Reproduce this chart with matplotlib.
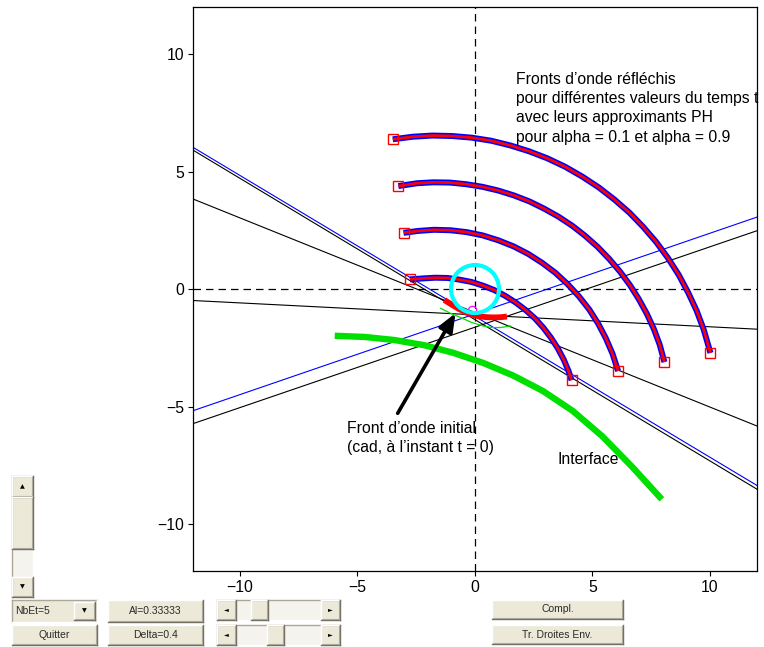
import matplotlib
matplotlib.use('Agg')
import matplotlib.pyplot as plt
from matplotlib.patches import Rectangle, Circle
from matplotlib.lines import Line2D

plt.rcParams['font.family'] = ['Liberation Sans', 'DejaVu Sans']

# ---------------- data ----------------
line_x = [-12, 12]
blue_desc_y = [6.03, -8.36]
black_desc_y = [5.91, -8.52]
black_desc2_y = [3.83, -5.83]
black_flat_y = [-0.49, -1.71]
blue_rise_y = [-5.18, 3.06]
black_rise_y = [-5.73, 2.48]

arc1_x = [-2.77, -2.22, -1.70, -1.18, -0.67, -0.15, 0.35, 0.83, 1.30, 1.74, 2.16, 2.55,
          2.91, 3.23, 3.52, 3.77, 3.98, 4.11]
arc1_y = [0.41, 0.45, 0.48, 0.47, 0.40, 0.30, 0.14, -0.05, -0.30, -0.58, -0.90, -1.25,
          -1.65, -2.07, -2.52, -2.99, -3.49, -3.88]

arc2_x = [-3.04, -2.43, -1.74, -1.04, -0.35, 0.33, 1.00, 1.65, 2.27, 2.86, 3.42, 3.94,
          4.42, 4.86, 5.24, 5.57, 5.85, 6.09]
arc2_y = [2.39, 2.47, 2.52, 2.50, 2.42, 2.28, 2.07, 1.81, 1.49, 1.11, 0.69, 0.21,
          -0.31, -0.87, -1.47, -2.10, -2.75, -3.49]

arc3_x = [-3.26, -2.47, -1.78, -1.08, -0.38, 0.31, 0.99, 1.66, 2.31, 2.94, 3.55, 4.14,
          4.69, 5.22, 5.71, 6.17, 6.59, 6.97, 7.31, 7.61, 7.86, 8.06]
arc3_y = [4.38, 4.50, 4.54, 4.53, 4.46, 4.35, 4.19, 3.98, 3.73, 3.42, 3.08, 2.69,
          2.26, 1.79, 1.28, 0.74, 0.17, -0.43, -1.05, -1.70, -2.37, -3.11]

arc4_x = [-3.50, -2.65, -1.81, -0.97, -0.14, 0.69, 1.50, 2.30, 3.08, 3.84, 4.57, 5.27,
          5.94, 6.57, 7.16, 7.71, 8.21, 8.67, 9.07, 9.43, 9.73, 10.02]
arc4_y = [6.37, 6.48, 6.53, 6.51, 6.44, 6.31, 6.11, 5.86, 5.56, 5.20, 4.78, 4.32,
          3.80, 3.25, 2.64, 2.00, 1.32, 0.60, -0.15, -0.92, -1.72, -2.72]

init_front_x = [-1.30, -1.00, -0.70, -0.40, -0.10, 0.20, 0.50, 0.80, 1.10, 1.36]
init_front_y = [-0.47, -0.66, -0.84, -0.99, -1.10, -1.17, -1.20, -1.21, -1.20, -1.17]

init_green_x = [-1.47, -1.05, -0.62, -0.15, 0.37, 0.75, 1.09, 1.51]
init_green_y = [-0.82, -1.03, -1.21, -1.42, -1.58, -1.64, -1.64, -1.57]

interface_x = [-5.97, -4.70, -3.44, -2.17, -0.91, 0.36, 1.62, 2.89, 4.15, 5.42, 6.69, 7.95]
interface_y = [-1.99, -2.04, -2.17, -2.39, -2.72, -3.15, -3.68, -4.34, -5.18, -6.27, -7.57, -8.95]

circle_center = (0.0, 0.0)
circle_radius = 1.02
magenta_pt = (-0.14, -0.89)

arrow_tail = (-3.29, -5.29)
arrow_head = (-0.83, -1.03)

ticks = [-10, -5, 0, 5, 10]
tick_labels = ['\u221210', '\u22125', '0', '5', '10']

text_fronts = ("Fronts d\u2019onde r\u00e9fl\u00e9chis\n"
               "pour diff\u00e9rentes valeurs du temps t\n"
               "avec leurs approximants PH\n"
               "pour alpha = 0.1 et alpha = 0.9")
text_initial = "Front d\u2019onde initial\n(cad, \u00e0 l\u2019instant t = 0)"
text_interface = "Interface"

widget_labels = ["NbEt=5", "Quitter", "Al=0.33333", "Delta=0.4", "Compl.", "Tr. Droites Env."]

# ---------------- figure ----------------
W, H = 764, 647
FS = 11.3
fig = plt.figure(figsize=(W / 100, H / 100), dpi=100)
fig.patch.set_facecolor('white')
ax = fig.add_axes([193 / W, 1 - 571 / H, 564 / W, 564 / H])
ax.set_xlim(-12, 12)
ax.set_ylim(-12, 12)
ax.set_xticks(ticks)
ax.set_xticklabels(tick_labels)
ax.set_yticks(ticks)
ax.set_yticklabels(tick_labels)
ax.tick_params(direction='out', length=3.5, width=0.8, labelsize=FS, pad=3)
for s in ax.spines.values():
    s.set_linewidth(0.9)

# dashed axes through origin
ax.axhline(0, color='black', lw=0.9, ls=(0, (6, 4)), zorder=1)
ax.axvline(0, color='black', lw=0.9, ls=(0, (6, 4)), zorder=1)

# envelope lines
ax.plot(line_x, blue_desc_y, color='#0000ff', lw=0.8, zorder=2)
ax.plot(line_x, black_desc_y, color='black', lw=0.8, zorder=2)
ax.plot(line_x, black_desc2_y, color='black', lw=0.8, zorder=2)
ax.plot(line_x, black_flat_y, color='black', lw=0.8, zorder=2)
ax.plot(line_x, blue_rise_y, color='#0000ff', lw=0.8, zorder=2)
ax.plot(line_x, black_rise_y, color='black', lw=0.8, zorder=2)

# interface
ax.plot(interface_x, interface_y, color='#00e000', lw=4.6, solid_capstyle='butt',
        solid_joinstyle='round', zorder=3)

# reflected wavefronts
for xs, ys in [(arc1_x, arc1_y), (arc2_x, arc2_y), (arc3_x, arc3_y), (arc4_x, arc4_y)]:
    ax.plot(xs, ys, color='#0000ff', lw=4.3, solid_capstyle='butt', solid_joinstyle='round', zorder=4)
    ax.plot(xs, ys, color='#ff0000', lw=2.0, solid_capstyle='butt', solid_joinstyle='round', zorder=5)
    ax.plot([xs[0], xs[-1]], [ys[0], ys[-1]], ls='none', marker='s', ms=7, mfc='none',
            mec='#ff0000', mew=1.0, zorder=6)

# initial front
ax.plot(init_green_x, init_green_y, color='#00e000', lw=0.9, zorder=4)
ax.plot(init_front_x, init_front_y, color='#ff0000', lw=4.2, solid_capstyle='butt',
        solid_joinstyle='round', zorder=5)
ax.plot([magenta_pt[0]], [magenta_pt[1]], marker='o', ms=6, mfc='none', mec='#ff00ff', mew=0.9, zorder=6)

# cyan circle
ax.add_patch(Circle(circle_center, circle_radius, fill=False, ec='#00ffff', lw=3.0, zorder=7))

# arrow
ax.annotate('', xy=arrow_head, xytext=arrow_tail,
            arrowprops=dict(arrowstyle='-|>,head_length=1.1,head_width=0.45', color='black', lw=2.6,
                            shrinkA=0, shrinkB=0), zorder=8)

# texts
ax.text(1.74, 9.25, text_fronts, fontsize=FS, va='top', ha='left', linespacing=1.36, zorder=9)
ax.text(-5.45, -5.6, text_initial, fontsize=FS, va='top', ha='left', linespacing=1.36, zorder=9)
ax.text(3.53, -6.93, text_interface, fontsize=FS, va='top', ha='left', zorder=9)

# ---------------- GUI widgets drawn on the figure ----------------
FACE = '#ece9d8'
TRACK = '#f4f3ee'


def fx(x):
    return x / W


def fy(y):
    return 1 - y / H


def line(x0, y0, x1, y1, color, lw=1.0):
    fig.add_artist(Line2D([fx(x0), fx(x1)], [fy(y0), fy(y1)], color=color, lw=lw,
                          transform=fig.transFigure))


def box(x0, y0, x1, y1, face=FACE, raised=True):
    fig.add_artist(Rectangle((fx(x0), fy(y1)), fx(x1) - fx(x0), fy(y0) - fy(y1),
                             transform=fig.transFigure, fc=face, ec='none'))
    light, dark = ('white', '#716f64') if raised else ('#aca899', 'white')
    line(x0, y0, x1, y0, light, 1.0)
    line(x0, y0, x0, y1, light, 1.0)
    line(x0, y1, x1, y1, dark, 1.0)
    line(x1, y0, x1, y1, dark, 1.0)
    if raised:
        line(x0 + 1, y1 - 1, x1 - 1, y1 - 1, '#aca899', 0.8)
        line(x1 - 1, y0 + 1, x1 - 1, y1 - 1, '#aca899', 0.8)


def label(x, y, s, ha='center', size=7.5):
    fig.text(fx(x), fy(y), s, ha=ha, va='center', fontsize=size, color='#2a2a2a',
             family=['Liberation Sans', 'DejaVu Sans'])


def glyph(x, y, s, size=4.5):
    fig.text(fx(x), fy(y), s, ha='center', va='center', fontsize=size, color='black',
             family=['DejaVu Sans'])


# vertical scrollbar
box(12, 476, 33, 597, face=TRACK, raised=False)
box(12, 476, 33, 497)
glyph(22.5, 486.5, '\u25b2')
box(12, 497, 33, 549)
box(12, 577, 33, 597)
glyph(22.5, 587, '\u25bc')

# popup NbEt
box(12, 600, 97, 622, raised=False)
label(15, 611, widget_labels[0], ha='left')
box(74, 602, 95, 620)
glyph(84.5, 611, '\u25bc')

# Quitter
box(12, 625, 97, 645)
label(54.5, 635, widget_labels[1])

# text boxes
box(108, 600, 203, 622)
label(155.5, 611, widget_labels[2])
box(108, 625, 203, 645)
label(155.5, 635, widget_labels[3])

# sliders
for (y0, y1, tx0, tx1) in [(600, 620, 251, 268), (625, 645, 267, 284)]:
    box(217, y0, 340, y1, face=TRACK, raised=False)
    box(217, y0, 236, y1)
    glyph(226.5, (y0 + y1) / 2, '\u25c4')
    box(321, y0, 340, y1)
    glyph(330.5, (y0 + y1) / 2, '\u25ba')
    box(tx0, y0, tx1, y1)

# right buttons
box(492, 600, 623, 619)
label(557.5, 609.5, widget_labels[4])
box(492, 625, 623, 644)
label(557.5, 634.5, widget_labels[5])

fig.savefig('out.png', dpi=100, facecolor='white')
